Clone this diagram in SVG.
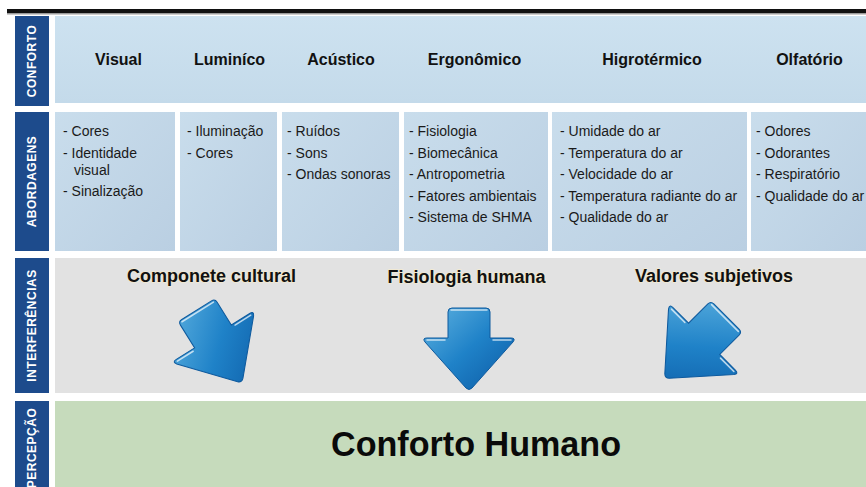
<svg xmlns="http://www.w3.org/2000/svg" width="866" height="487" viewBox="0 0 866 487">
<style>
.bar{fill:#1d4b8c}
.vl{font-family:"Liberation Sans",Arial,sans-serif;font-weight:bold;font-size:12px;fill:#ffffff;text-anchor:middle;letter-spacing:0.5px}
.hd{font-family:"Liberation Sans",Arial,sans-serif;font-weight:bold;font-size:16px;fill:#111;text-anchor:middle}
.it{font-family:"Liberation Sans",Arial,sans-serif;font-size:14px;fill:#1a1a1a}
.ih{font-family:"Liberation Sans",Arial,sans-serif;font-weight:bold;font-size:18px;fill:#111;text-anchor:middle;stroke:#f3ead0;stroke-width:1.5px;paint-order:stroke}
.box{fill:url(#boxg)}
.arrow{fill:url(#arrg);stroke:#0e5a9e;stroke-width:1}
.hl{fill:none;stroke:#ffffff;stroke-opacity:0.7;stroke-width:1.5;stroke-linecap:round}
</style>
<defs>
<linearGradient id="boxg" x1="0" y1="0" x2="1" y2="1">
<stop offset="0" stop-color="#c9ddec"/>
<stop offset="1" stop-color="#bacfe2"/>
</linearGradient>
<linearGradient id="topg" x1="0" y1="0" x2="0" y2="1">
<stop offset="0" stop-color="#cde2f0"/>
<stop offset="1" stop-color="#c4daea"/>
</linearGradient>
<linearGradient id="arrg" x1="0" y1="0" x2="1" y2="1">
<stop offset="0" stop-color="#5fb2e0"/>
<stop offset="0.5" stop-color="#1f82c8"/>
<stop offset="1" stop-color="#0c5aa4"/>
</linearGradient>
<path id="arr" d="M -21,-37 Q -21,-41 -17,-41 L 17,-41 Q 21,-41 21,-37 L 21,-11 L 42,-11 Q 47,-11 44,-7 L 3,39 Q 0,42 -3,39 L -44,-7 Q -47,-11 -42,-11 L -21,-11 Z"/>
</defs>
<rect x="0" y="0" width="866" height="487" fill="#ffffff"/>
<rect x="7" y="9" width="859" height="4" fill="#111111"/>
<rect x="7" y="13" width="859" height="1.5" fill="#9a9a9a"/>

<g id="conforto">
<rect class="bar" x="15" y="16" width="34" height="90"/>
<text class="vl" transform="translate(36,61) rotate(-90)">CONFORTO</text>
<rect x="55" y="16" width="811" height="87" fill="url(#topg)"/>
<text class="hd" x="118.5" y="65">Visual</text>
<text class="hd" x="229.5" y="65">Luminíco</text>
<text class="hd" x="341" y="65">Acústico</text>
<text class="hd" x="474.5" y="65">Ergonômico</text>
<text class="hd" x="652" y="65">Higrotérmico</text>
<text class="hd" x="809.5" y="65">Olfatório</text>
</g>

<g id="abordagens">
<rect class="bar" x="15" y="112" width="34" height="139"/>
<text class="vl" transform="translate(36,181.5) rotate(-90)">ABORDAGENS</text>
</g>
<g id="box-visual">
<rect class="box" x="55" y="112" width="120" height="139"/>
<text class="it" x="63" y="136">- Cores</text>
<text class="it" x="63" y="157.5">- Identidade</text>
<text class="it" x="74" y="174.5">visual</text>
<text class="it" x="63" y="196">- Sinalização</text>
</g>
<g id="box-luminico">
<rect class="box" x="180" y="112" width="97" height="139"/>
<text class="it" x="187" y="136">- Iluminação</text>
<text class="it" x="187" y="157.5">- Cores</text>
</g>
<g id="box-acustico">
<rect class="box" x="282" y="112" width="117" height="139"/>
<text class="it" x="287" y="136">- Ruídos</text>
<text class="it" x="287" y="157.5">- Sons</text>
<text class="it" x="287" y="179">- Ondas sonoras</text>
</g>
<g id="box-ergonomico">
<rect class="box" x="404" y="112" width="144" height="139"/>
<text class="it" x="409" y="136">- Fisiologia</text>
<text class="it" x="409" y="157.5">- Biomecânica</text>
<text class="it" x="409" y="179">- Antropometria</text>
<text class="it" x="409" y="200.5">- Fatores ambientais</text>
<text class="it" x="409" y="222">- Sistema de SHMA</text>
</g>
<g id="box-higrotermico">
<rect class="box" x="552" y="112" width="195" height="139"/>
<text class="it" x="560" y="136">- Umidade do ar</text>
<text class="it" x="560" y="157.5">- Temperatura do ar</text>
<text class="it" x="560" y="179">- Velocidade do ar</text>
<text class="it" x="560" y="200.5">- Temperatura radiante do ar</text>
<text class="it" x="560" y="222">- Qualidade do ar</text>
</g>
<g id="box-olfatorio">
<rect class="box" x="751" y="112" width="115" height="139"/>
<text class="it" x="756" y="136">- Odores</text>
<text class="it" x="756" y="157.5">- Odorantes</text>
<text class="it" x="756" y="179">- Respiratório</text>
<text class="it" x="756" y="200.5">- Qualidade do ar</text>
</g>

<g id="interferencias">
<rect class="bar" x="15" y="258" width="34" height="135"/>
<text class="vl" transform="translate(36,325.5) rotate(-90)">INTERFERÊNCIAS</text>
<rect x="55" y="258" width="811" height="135" fill="#e2e2e2"/>
<text class="ih" x="211.5" y="282">Componete cultural</text>
<text class="ih" x="466.5" y="283">Fisiologia humana</text>
<text class="ih" x="714" y="282">Valores subjetivos</text>
</g>

<g id="connectors">
<g transform="translate(219,346) rotate(-32) scale(1.03)">
<use href="#arr" class="arrow"/>
<path class="hl" d="M -18,-39 L 18,-39 M 24,-9 L 42,-9 M -42,-9 L -24,-9"/>
</g>
<g transform="translate(469,349)">
<use href="#arr" class="arrow"/>
<path class="hl" d="M -18,-39 L 18,-39 M 24,-9 L 42,-9 M -42,-9 L -24,-9"/>
</g>
<g transform="translate(696,347) rotate(45) scale(1.05)">
<use href="#arr" class="arrow"/>
<path class="hl" d="M -18,-39 L 18,-39 M 24,-9 L 42,-9 M -42,-9 L -24,-9"/>
</g>
</g>

<g id="percepcao">
<rect class="bar" x="15" y="401" width="34" height="86"/>
<text class="vl" transform="translate(36,448) rotate(-90)">PERCEPÇÃO</text>
<rect x="55" y="401" width="811" height="86" fill="#c6dbbc"/>
<text x="476" y="456" font-family="'Liberation Sans',Arial,sans-serif" font-weight="bold" font-size="35" fill="#0a0a0a" text-anchor="middle" textLength="290" lengthAdjust="spacingAndGlyphs">Conforto Humano</text>
</g>
</svg>
